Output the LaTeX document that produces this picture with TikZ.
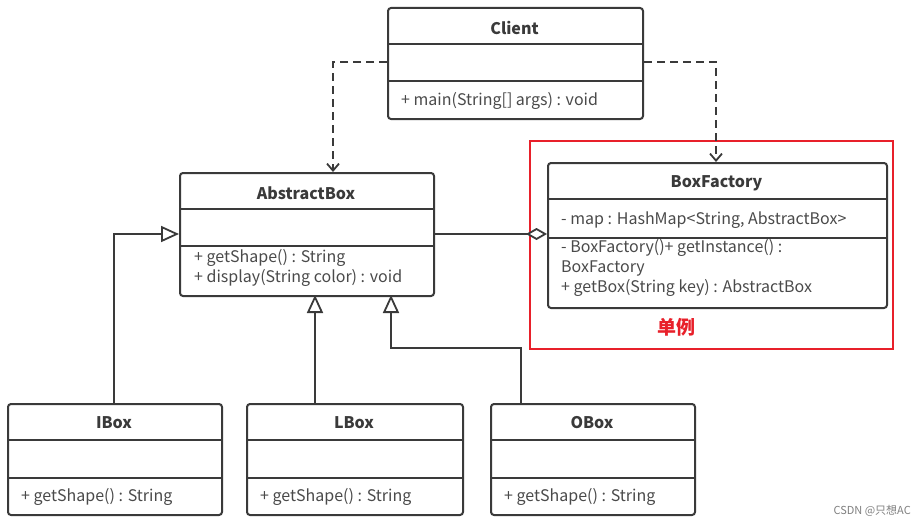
\documentclass[tikz,border=0pt]{standalone}
\usepackage{fontspec}
\setmainfont{Noto Sans CJK SC}
\usetikzlibrary{arrows.meta}
\definecolor{linec}{HTML}{3A3A3A}
\definecolor{txtc}{HTML}{4A4A4A}
\definecolor{redc}{HTML}{E8202A}
\begin{document}
\begin{tikzpicture}[x=1pt,y=-1pt,
  umlbox/.style={draw=linec, line width=2pt, rounded corners=3pt, fill=white, anchor=north west, inner sep=0pt},
  divider/.style={draw=linec, line width=1.8pt},
  title/.style={font=\fontsize{16}{18}\selectfont\bfseries, text=linec, anchor=center, inner sep=0pt},
  member/.style={font=\fontsize{16}{20}\selectfont, text=txtc, anchor=west, inner sep=0pt, align=left},
  dep/.style={draw=linec, line width=2pt, dash pattern=on 8pt off 5pt, -{Straight Barb[length=7pt,width=12pt,line width=1.8pt]}},
  gen/.style={draw=linec, line width=2pt, -{Triangle[open, length=18pt, width=16pt, fill=white, line width=1.8pt]}},
  agg/.style={draw=linec, line width=2pt, -{Diamond[open, length=21pt, width=12pt, fill=white, line width=1.8pt]}},
]
\useasboundingbox (0,0) rectangle (923,527);
\fill[white] (0,0) rectangle (923,527);

% red highlight
\node[draw=redc, line width=1.8pt, anchor=north west, minimum width=363pt, minimum height=208pt, inner sep=0pt] (redbox) at (529,140) {};
\node[font=\fontsize{19}{20}\selectfont\bfseries, text=redc, inner sep=0pt] (single) at (676,327) {单例};

% Client
\node[umlbox, minimum width=255pt, minimum height=111pt] (client) at (387,7) {};
\draw[divider] (387,44) -- (642,44);
\draw[divider] (387,81) -- (642,81);
\node[title] (clientT) at (514.5,28) {Client};
\node[member] (clientM) at (401,101) {+ main(String[] args) : void};

% AbstractBox
\node[umlbox, minimum width=254pt, minimum height=123pt] (abox) at (179,172) {};
\draw[divider] (179,209) -- (433,209);
\draw[divider] (179,246) -- (433,246);
\node[title] (aboxT) at (306,193) {AbstractBox};
\node[member] (aboxM1) at (194,258) {+ getShape() : String};
\node[member] (aboxM2) at (194,278) {+ display(String color) : void};

% BoxFactory
\node[umlbox, minimum width=339pt, minimum height=145pt] (bf) at (547,162) {};
\draw[divider] (547,199) -- (886,199);
\draw[divider] (547,238) -- (886,238);
\node[title] (bfT) at (716.5,183) {BoxFactory};
\node[member] (bfA) at (561,220) {- map : HashMap<String, AbstractBox>};
\node[member, anchor=north west] (bfM) at (561,239) {- BoxFactory()+ getInstance() :\\BoxFactory\\+ getBox(String key) : AbstractBox};

% IBox
\node[umlbox, minimum width=214pt, minimum height=111pt] (ibox) at (7,403) {};
\draw[divider] (7,440) -- (221,440);
\draw[divider] (7,478) -- (221,478);
\node[title] (iboxT) at (114,423) {IBox};
\node[member] (iboxM) at (21,497) {+ getShape() : String};

% LBox
\node[umlbox, minimum width=216pt, minimum height=111pt] (lbox) at (246,403) {};
\draw[divider] (246,440) -- (462,440);
\draw[divider] (246,478) -- (462,478);
\node[title] (lboxT) at (354,423) {LBox};
\node[member] (lboxM) at (260,497) {+ getShape() : String};

% OBox
\node[umlbox, minimum width=204pt, minimum height=111pt] (obox) at (490,403) {};
\draw[divider] (490,440) -- (694,440);
\draw[divider] (490,478) -- (694,478);
\node[title] (oboxT) at (592,423) {OBox};
\node[member] (oboxM) at (504,497) {+ getShape() : String};

% connectors
\draw[dep] (client.west |- 0,62) -- (333,62) -- (333,172);
\draw[dep] (client.east |- 0,62) -- (716,62) -- (716,162);
\draw[agg] (abox.east |- 0,234) -- (bf.west |- 0,234);
\draw[gen] (114,403) -- (114,234) -- (abox.west |- 0,234);
\draw[gen] (315,403) -- (315,295);
\draw[gen] (521,403) -- (521,348) -- (391,348) -- (391,295);

\node[font=\fontsize{11}{12}\selectfont, text=gray, anchor=east, inner sep=0pt] (wm) at (911,511) {CSDN @只想AC};
\end{tikzpicture}
\end{document}
